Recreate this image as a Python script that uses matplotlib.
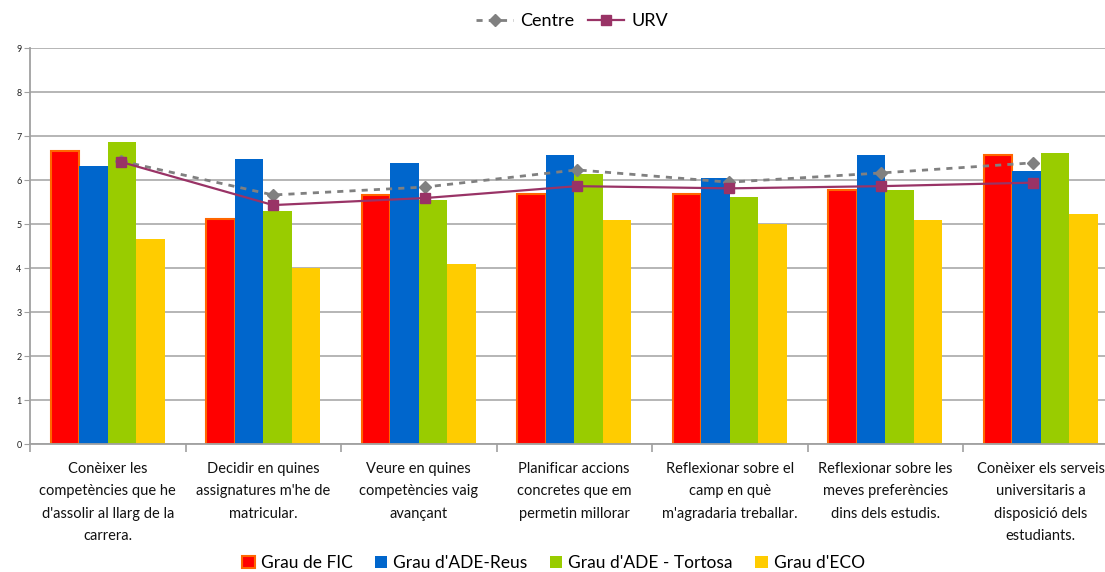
import numpy as np
import matplotlib
matplotlib.use("Agg")
from matplotlib import pyplot as plt
from matplotlib.patches import Patch
from matplotlib.lines import Line2D

plt.rcParams['font.family'] = ['Lato', 'DejaVu Sans']

categories = [
    "Conèixer les\ncompetències que he\nd'assolir al llarg de la\ncarrera.",
    "Decidir en quines\nassignatures m'he de\nmatricular.",
    "Veure en quines\ncompetències vaig\navançant",
    "Planificar accions\nconcretes que em\npermetin millorar",
    "Reflexionar sobre el\ncamp en què\nm'agradaria treballar.",
    "Reflexionar sobre les\nmeves preferències\ndins dels estudis.",
    "Conèixer els serveis\nuniversitaris a\ndisposició dels\nestudiants.",
]
series_names = ["Grau de FIC", "Grau d'ADE-Reus", "Grau d'ADE - Tortosa", "Grau d'ECO"]
fic      = [6.67, 5.11, 5.67, 5.68, 5.68, 5.77, 6.57]
ade_reus = [6.32, 6.48, 6.39, 6.57, 6.05, 6.57, 6.20]
ade_tort = [6.86, 5.30, 5.55, 6.14, 5.61, 5.77, 6.61]
eco      = [4.66, 4.00, 4.09, 5.09, 5.00, 5.09, 5.23]
centre   = [6.43, 5.66, 5.84, 6.23, 5.95, 6.16, 6.39]
urv      = [6.41, 5.43, 5.59, 5.86, 5.81, 5.86, 5.94]

bar_colors = ["#FF0000", "#0066CC", "#99CC00", "#FFCC00"]

fig = plt.figure(figsize=(11.05, 5.72), dpi=100)
W, H = 1105, 572
ax = fig.add_axes([30 / W, 128 / H, 1088.5 / W, 396 / H])

n = len(categories)
x = np.arange(n)
bw = 0.184
for k, vals in enumerate([fic, ade_reus, ade_tort, eco]):
    off = (k - 1.5) * bw
    if k == 0:
        ax.bar(x + off, vals, bw, color=bar_colors[k], edgecolor="#FF6600",
               linewidth=1.5, zorder=2)
    else:
        ax.bar(x + off, vals, bw, color=bar_colors[k], linewidth=0, zorder=2)

ax.set_xlim(-0.5, n - 0.5)
ax.set_ylim(0, 9)
ax.set_yticks(range(10))
ax.tick_params(axis='y', labelsize=6.5, length=4, color="#A0A0A0", pad=2,
               labelcolor="#222222")
ax.yaxis.grid(True, color="#B0B0B0", linewidth=1.3, zorder=0)
ax.set_axisbelow(True)

ax.set_xticks(x)
ax.set_xticklabels(categories, fontsize=10.5, linespacing=1.75)
ax.tick_params(axis='x', which='major', length=0, pad=13, labelcolor="#111111")
ax.set_xticks(np.arange(n + 1) - 0.5, minor=True)
ax.tick_params(axis='x', which='minor', length=6, color="#A0A0A0", width=1.2)

for s in ["top", "right"]:
    ax.spines[s].set_visible(False)
for s in ["left", "bottom"]:
    ax.spines[s].set_color("#A0A0A0")
    ax.spines[s].set_linewidth(1.3)

# lines use their own x scale (as in the source chart)
ax2 = ax.twiny()
ax2.set_xlim(-0.599, 6.562)
ax2.set_ylim(0, 9)
ax2.axis("off")
ax2.plot(x, centre, color="#808080", linestyle=(0, (2.2, 2.2)), linewidth=2,
         marker="D", markersize=6, zorder=3)
ax2.plot(x, urv, color="#993366", linewidth=1.6, marker="s", markersize=7,
         zorder=4)

top_handles = [
    Line2D([], [], color="#808080", linestyle=(0, (2.2, 2.2)), linewidth=2,
           marker="D", markersize=6),
    Line2D([], [], color="#993366", linewidth=1.6, marker="s", markersize=7),
]
fig.legend(top_handles, ["Centre", "URV"], loc="center", ncol=2,
           bbox_to_anchor=(0.518, 1 - 21 / H), frameon=False, fontsize=13,
           handlelength=2.0, columnspacing=0.8, handletextpad=0.4)

bot_handles = [Patch(facecolor=bar_colors[0], edgecolor="#FF6600", linewidth=1.5)]
bot_handles += [Patch(facecolor=c, linewidth=0) for c in bar_colors[1:]]
fig.legend(bot_handles, series_names, loc="center", ncol=4,
           bbox_to_anchor=(0.501, 1 - 563 / H), frameon=False, fontsize=12.5,
           handlelength=0.7, handleheight=0.7, columnspacing=1.3,
           handletextpad=0.35)

fig.savefig("out.png", dpi=100)
